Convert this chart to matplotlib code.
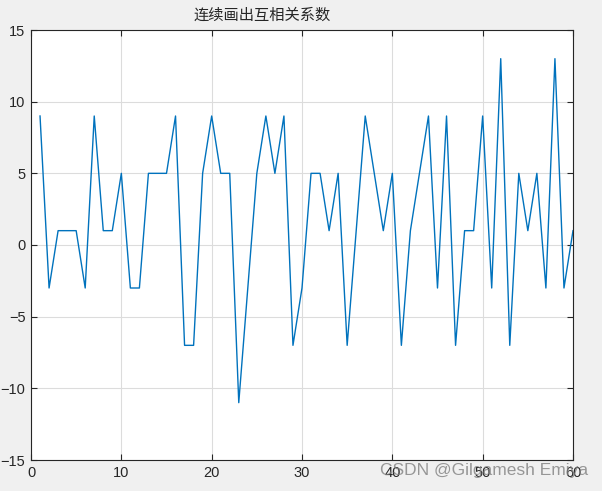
import matplotlib
matplotlib.use("Agg")
import matplotlib.pyplot as plt

plt.rcParams['font.family'] = ['Liberation Sans', 'Noto Sans CJK SC', 'DejaVu Sans']

# sample index and cross-correlation values
n = list(range(1, 61))
r = [9, -3, 1, 1, 1, -3, 9, 1, 1, 5,
     -3, -3, 5, 5, 5, 9, -7, -7, 5, 9,
     5, 5, -11, -3, 5, 9, 5, 9, -7, -3,
     5, 5, 1, 5, -7, 1, 9, 5, 1, 5,
     -7, 1, 5, 9, -3, 9, -7, 1, 1, 9,
     -3, 13, -7, 5, 1, 5, -3, 13, -3, 1]

xticks = [0, 10, 20, 30, 40, 50, 60]
yticks = [-15, -10, -5, 0, 5, 10, 15]

fig = plt.figure(figsize=(6.02, 4.91), dpi=100, facecolor='#f0f0f0')
ax = fig.add_axes([31/602, 31/491, 542/602, 430/491])
ax.plot(n, r, color='#0072bd', linewidth=1.0)

ax.set_xlim(0, 60)
ax.set_ylim(-15, 15)
ax.set_xticks(xticks)
ax.set_yticks(yticks)
ax.grid(True, color='#dcdcdc', linewidth=0.8)
ax.set_axisbelow(True)
ax.tick_params(direction='in', length=4, width=0.8, colors='#262626',
               labelsize=10.5, top=True, right=True, pad=4)
for s in ax.spines.values():
    s.set_color('#262626')
    s.set_linewidth(0.8)

fig.text(262/602, 1 - 15/491, '连续画出互相关系数', ha='center', va='center',
         fontsize=11, color='#262626', family=['Noto Sans CJK SC', 'DejaVu Sans'])

fig.text(588/602, 1 - 470/491, 'CSDN @Gilgamesh Emiya', ha='right', va='center',
         fontsize=12.5, color='#808080', alpha=0.8)

fig.savefig('out.png', dpi=100, facecolor=fig.get_facecolor())
